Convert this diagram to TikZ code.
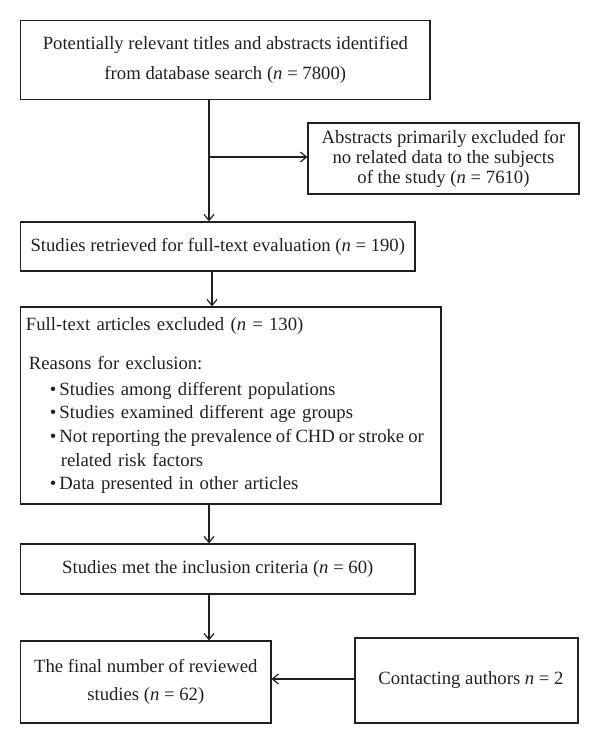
\documentclass[tikz,border=0pt]{standalone}
\usepackage{fontspec}
\setmainfont{Liberation Serif}
\usetikzlibrary{arrows.meta,calc}
\definecolor{ink}{HTML}{231F20}
\newcommand{\bul}{\textbullet\hspace{3bp}}
\begin{document}
\begin{tikzpicture}[x=1bp,y=-1bp,
  box/.style={draw=ink, line width=1.3bp, text=ink, inner sep=0pt, align=center,
              font=\fontsize{18.7bp}{20bp}\selectfont},
  arr/.style={draw=ink, line width=1.2bp, -{Straight Barb[length=6bp,width=10bp]}}]
\useasboundingbox (0,0) rectangle (600,744);
\node[box, minimum width=409.3bp, minimum height=78.6bp,
      font=\fontsize{18.7bp}{30bp}\selectfont] (b1) at (225.3,60)
  {Potentially relevant titles and abstracts identified\\ from database search (\textit{n} = 7800)};
\node[box, minimum width=271bp, minimum height=71bp] (b2) at (443.5,158.5)
  {Abstracts primarily excluded for\\ no related data to the subjects\\ of the study (\textit{n} = 7610)};
\node[box, minimum width=394.3bp, minimum height=49bp] (b3) at (217.8,246.5)
  {Studies retrieved for full-text evaluation (\textit{n} = 190)};
\node[box, minimum width=420.3bp, minimum height=197bp, align=left, text width=409.7bp,
      inner xsep=5.3bp, font=\fontsize{18.7bp}{23.6bp}\selectfont] (b4) at (230.8,405.5)
  {Full-text articles excluded (\textit{n} = 130)\\[15.4bp]
   \hspace*{3bp}Reasons for exclusion:\\[2.4bp]
   \hspace*{24bp}\bul Studies among different populations\\
   \hspace*{24bp}\bul Studies examined different age groups\\
   \mbox{\spaceskip=4bp plus 1bp\hspace*{24bp}\bul Not reporting the prevalence of CHD or stroke or}\\
   \hspace*{35bp}related risk factors\\
   \hspace*{24bp}\bul Data presented in other articles};
\node[box, minimum width=394.3bp, minimum height=50bp] (b5) at (217.8,569)
  {Studies met the inclusion criteria (\textit{n} = 60)};
\node[box, minimum width=250.3bp, minimum height=82bp,
      font=\fontsize{18.7bp}{28bp}\selectfont] (b6) at (145.8,682)
  {The final number of reviewed\\ studies (\textit{n} = 62)};
\node[box, minimum width=223bp, minimum height=85bp] (b7) at (466.5,680.5)
  {\hspace*{9bp}Contacting authors \textit{n} = 2};
\coordinate (br) at (209,157);
\coordinate (c2) at (212,0);
\coordinate (c3) at (209,0);
\coordinate (c4) at (0,679);
\draw[arr] (b1.south -| br) -- (b3.north -| br);
\draw[arr] (br) -- (br -| b2.west);
\draw[arr] (b3.south -| c2) -- (b4.north -| c2);
\draw[arr] (b4.south -| c3) -- (b5.north -| c3);
\draw[arr] (b5.south -| c3) -- (b6.north -| c3);
\draw[arr] (b7.west |- c4) -- (b6.east |- c4);
\end{tikzpicture}
\end{document}
